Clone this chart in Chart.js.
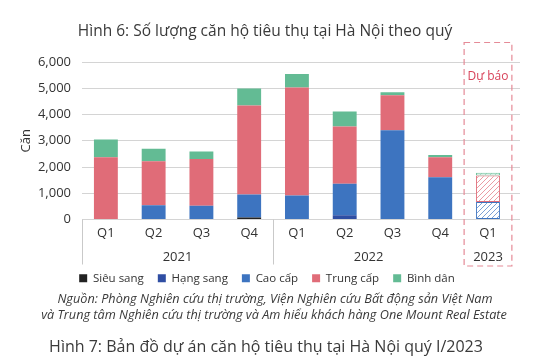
<!DOCTYPE html>
<html>
<head>
<meta charset="utf-8">
<script src="https://cdn.jsdelivr.net/npm/chart.js@4"></script>
<style>
  html, body { margin: 0; padding: 0; background: #fff; }
  body { width: 554px; height: 362px; position: relative; overflow: hidden; font-family: 'Open Sans', sans-serif; color: #3a3a3a; }
  #wrap { position: absolute; left: 0; top: 0; width: 554px; height: 362px; }
  .txt { position: absolute; left: 0; width: 554px; text-align: center; white-space: nowrap; }
  #title { top: 19px; font-size: 15.5px; left: -12px; }
  #src1 { top: 289px; font-size: 12.7px; font-style: italic; left: -2px; }
  #src2 { top: 305px; font-size: 12.7px; font-style: italic; left: -3px; }
  #fig7 { top: 335px; font-size: 16px; left: -11px; }
</style>
</head>
<body>
<div id="wrap"><canvas id="chart" width="554" height="362"></canvas></div>
<div class="txt" id="title">Hình 6: Số lượng căn hộ tiêu thụ tại Hà Nội theo quý</div>
<div class="txt" id="src1">Nguồn: Phòng Nghiên cứu thị trường, Viện Nghiên cứu Bất động sản Việt Nam</div>
<div class="txt" id="src2">và Trung tâm Nghiên cứu thị trường và Am hiểu khách hàng One Mount Real Estate</div>
<div class="txt" id="fig7">Hình 7: Bản đồ dự án căn hộ tiêu thụ tại Hà Nội quý I/2023</div>
<script>
const quarters = ['Q1', 'Q2', 'Q3', 'Q4', 'Q1', 'Q2', 'Q3', 'Q4', 'Q1'];
const years = ['2021', '2022', '2023'];
const quartersPerYear = [4, 4, 1];
const forecastIndex = 8;

const sieuSang = [0, 0, 0, 80, 0, 0, 0, 0, 0];
const hangSang = [0, 0, 0, 0, 0, 165, 0, 0, 0];
const caoCap = [0, 545, 520, 870, 910, 1200, 3400, 1610, 670];
const trungCap = [2370, 1675, 1787, 3396, 4120, 2180, 1330, 760, 1010];
const binhDan = [680, 480, 280, 647, 510, 570, 115, 90, 100];

const yTicks = [0, 1000, 2000, 3000, 4000, 5000, 6000];

const seriesDefs = [
  { label: 'Siêu sang', data: sieuSang, color: '#222222' },
  { label: 'Hạng sang', data: hangSang, color: '#2f4ea3' },
  { label: 'Cao cấp', data: caoCap, color: '#3d74c0' },
  { label: 'Trung cấp', data: trungCap, color: '#e06c78' },
  { label: 'Bình dân', data: binhDan, color: '#63bb94' },
];

function hatch(color) {
  const c = document.createElement('canvas');
  c.width = 5; c.height = 5;
  const g = c.getContext('2d');
  g.fillStyle = '#fff';
  g.fillRect(0, 0, 5, 5);
  g.strokeStyle = color;
  g.globalAlpha = 0.85;
  g.lineWidth = 0.8;
  g.beginPath();
  g.moveTo(0, 5); g.lineTo(5, 0);
  g.moveTo(-1, 1); g.lineTo(1, -1);
  g.moveTo(4, 6); g.lineTo(6, 4);
  g.stroke();
  return g.createPattern(c, 'repeat');
}

// centers of year groups along the quarter axis
const yearCenters = [];
let start = 0;
quartersPerYear.forEach((n) => {
  yearCenters.push(start + (n - 1) / 2);
  start += n;
});
const groupEdges = [-0.5, quartersPerYear[0] - 0.5];

const xMin = -0.5;
const xMax = 8.67;

const decorPlugin = {
  id: 'decor',
  afterDraw(chart) {
    const { ctx, chartArea, scales } = chart;
    const x = scales.x;
    ctx.save();
    ctx.strokeStyle = '#c9c9c9';
    ctx.lineWidth = 1;
    groupEdges.forEach((v) => {
      const px = Math.round(x.getPixelForValue(v)) + 0.5;
      ctx.beginPath();
      ctx.moveTo(px, chartArea.bottom);
      ctx.lineTo(px, chartArea.bottom + 45);
      ctx.stroke();
    });
    // forecast box
    const l = x.getPixelForValue(forecastIndex - 0.5);
    const r = x.getPixelForValue(forecastIndex + 0.5);
    ctx.strokeStyle = '#e58b97';
    ctx.lineWidth = 1.2;
    ctx.setLineDash([6, 4]);
    ctx.strokeRect(l, chartArea.top - 19.5, r - l, chartArea.bottom - chartArea.top + 66);
    ctx.setLineDash([]);
    ctx.fillStyle = '#d8435a';
    ctx.font = '12px "Open Sans"';
    ctx.textAlign = 'center';
    ctx.textBaseline = 'middle';
    ctx.fillText('Dự báo', (l + r) / 2, chartArea.top + 15);
    ctx.restore();
  },
};

new Chart(document.getElementById('chart'), {
  type: 'bar',
  data: {
    datasets: seriesDefs.map((s) => ({
      label: s.label,
      data: s.data.map((v, i) => ({ x: i, y: v })),
      backgroundColor: (c) => (c.dataIndex === forecastIndex ? hatch(s.color) : s.color),
      borderColor: s.color,
      borderWidth: (c) => (c.dataIndex === forecastIndex ? 1 : 0),
      borderSkipped: false,
      categoryPercentage: 1,
      barPercentage: 0.5,
    })),
  },
  options: {
    responsive: false,
    animation: false,
    layout: { padding: { top: 62, left: 14, right: 34, bottom: 68 } },
    plugins: {
      legend: {
        position: 'bottom',
        labels: {
          boxWidth: 8,
          boxHeight: 8,
          padding: 14,
          color: '#333',
          font: { family: 'Open Sans', size: 11.5 },
        },
      },
      tooltip: { enabled: false },
    },
    scales: {
      x: {
        type: 'linear',
        stacked: true,
        offset: false,
        min: xMin,
        max: xMax,
        grid: { display: false, drawTicks: false },
        border: { display: false },
        afterBuildTicks: (axis) => { axis.ticks = quarters.map((q, i) => ({ value: i })); },
        afterFit: (scale) => { scale.height = 22; },
        ticks: {
          padding: 6,
          color: '#333',
          font: { family: 'Open Sans', size: 13 },
          callback: (v) => quarters[v],
        },
      },
      x2: {
        type: 'linear',
        position: 'bottom',
        offset: false,
        min: xMin,
        max: xMax,
        grid: { display: false, drawTicks: false },
        border: { display: false },
        afterBuildTicks: (axis) => { axis.ticks = yearCenters.map((v) => ({ value: v })); },
        afterFit: (scale) => { scale.height = 17; },
        ticks: {
          mirror: true,
          padding: -24,
          color: '#333',
          font: { family: 'Open Sans', size: 13 },
          callback: (v) => years[yearCenters.indexOf(v)],
        },
      },
      y: {
        stacked: true,
        min: 0,
        max: 6000,
        afterBuildTicks: (axis) => { axis.ticks = yTicks.map((v) => ({ value: v })); },
        afterFit: (scale) => { scale.width = 68; },
        grid: { color: '#d4d4d4', drawTicks: false },
        border: { display: false },
        ticks: {
          padding: 11,
          color: '#333',
          font: { family: 'Open Sans', size: 13 },
          callback: (v) => v.toLocaleString('en-US'),
        },
        title: {
          display: true,
          text: 'Căn',
          color: '#333',
          padding: { top: 4, bottom: 0 },
          font: { family: 'Open Sans', size: 13 },
        },
      },
    },
  },
  plugins: [decorPlugin],
});
</script>
</body>
</html>
